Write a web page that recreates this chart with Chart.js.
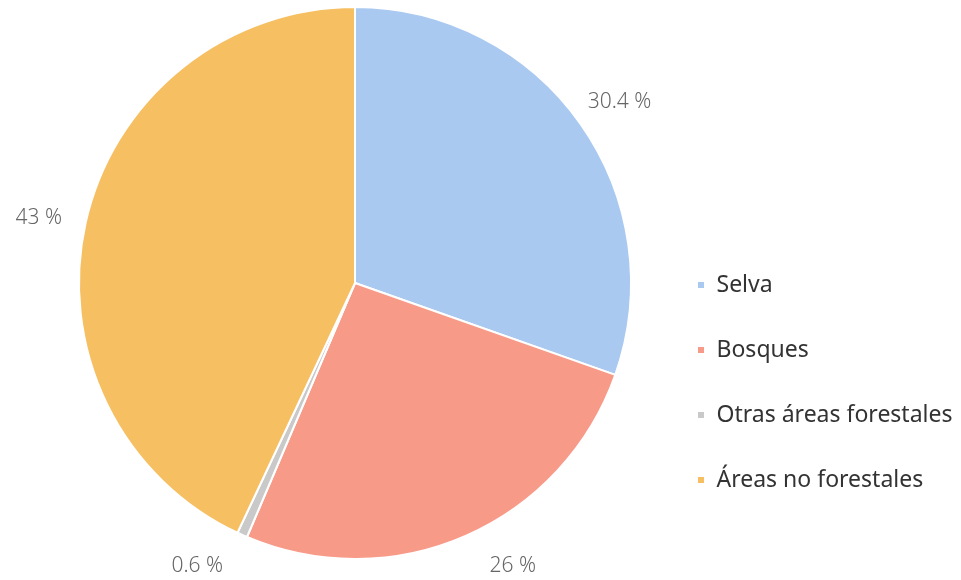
<!DOCTYPE html>
<html><head><meta charset="utf-8">
<script src="https://cdn.jsdelivr.net/npm/chart.js@4"></script>
<style>html,body{margin:0;padding:0;background:#fff;}#wrap{width:961px;height:580px;position:relative;}</style>
</head><body><div id="wrap"><canvas id="c"></canvas></div>
<script>
const categories = ["Selva", "Bosques", "Otras áreas forestales", "Áreas no forestales"];
const values = [30.4, 26, 0.6, 43];
const valueLabels = ["30.4 %", "26 %", "0.6 %", "43 %"];
const colors = ["#a9c9f1", "#f89a88", "#c9c9c9", "#f6bf62"];

const FONT = '"Noto Sans", sans-serif';

const outsideLabels = {
  id: 'outsideLabels',
  afterDatasetsDraw(chart) {
    const ctx = chart.ctx;
    const meta = chart.getDatasetMeta(0);
    const maxY = chart.height - 14;
    ctx.save();
    ctx.font = '300 21px ' + FONT;
    ctx.fillStyle = '#666';
    ctx.textAlign = 'center';
    ctx.textBaseline = 'middle';
    meta.data.forEach((arc, i) => {
      const p = arc.getProps(['x','y','startAngle','endAngle','outerRadius'], true);
      const mid = (p.startAngle + p.endAngle) / 2;
      const r = p.outerRadius + 48;
      let x = p.x + Math.cos(mid) * r;
      let y = p.y + Math.sin(mid) * r + 6;
      if (y > maxY) {
        y = maxY;
        const dy = y - p.y;
        x = p.x + Math.sign(Math.cos(mid)) * Math.sqrt(Math.max(0, r * r - dy * dy));
      }
      ctx.fillText(valueLabels[i], x, y);
    });
    ctx.restore();
  }
};

new Chart(document.getElementById('c'), {
  type: 'pie',
  data: {
    labels: categories,
    datasets: [{
      data: values,
      backgroundColor: colors,
      borderColor: '#ffffff',
      borderWidth: 2
    }]
  },
  options: {
    responsive: true,
    maintainAspectRatio: false,
    animation: false,
    layout: { padding: { left: 55, top: 6, bottom: 20, right: 0 } },
    plugins: {
      tooltip: { enabled: false },
      legend: {
        position: 'right',
        align: 'center',
        maxWidth: 306,
        title: { display: true, text: ' ', font: { size: 10, lineHeight: 1 }, padding: { top: 95, bottom: 94 } },
        labels: {
          boxWidth: 8,
          boxHeight: 8,
          padding: 42,
          color: '#333',
          font: { family: FONT, size: 23 }
        }
      }
    }
  },
  plugins: [outsideLabels]
});
</script></body></html>
